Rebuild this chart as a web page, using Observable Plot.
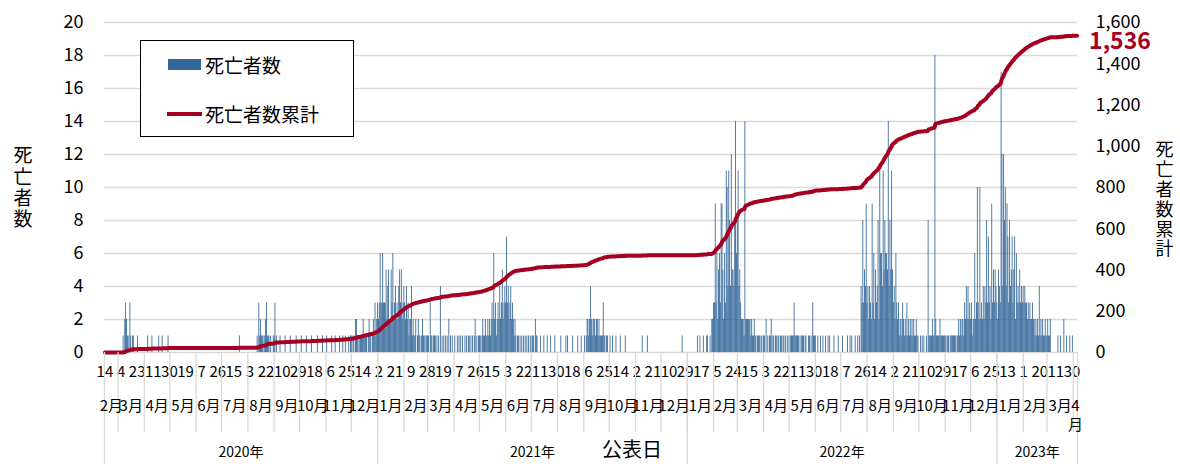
<!DOCTYPE html>
<html>
<head>
<meta charset="utf-8">
<script src="https://cdn.jsdelivr.net/npm/d3@7"></script>
<script src="https://cdn.jsdelivr.net/npm/@observablehq/plot@0.6"></script>
<style>
  body { margin: 0; background: #fff; font-family: "Noto Sans CJK JP", "Noto Sans", sans-serif; }
  #wrap { position: relative; width: 1180px; height: 464px; overflow: hidden; }
  #legend { position: absolute; left: 140px; top: 40px; width: 214px; height: 97px; box-sizing: border-box;
            border: 1px solid #000; background: #fff; }
  #legend .sw { position: absolute; }
  #legend .lb { position: absolute; font-size: 19px; line-height: 22px; color: #000; white-space: nowrap; }
</style>
</head>
<body>
<div id="wrap">
  <div id="chart"></div>
  <div id="legend"></div>
</div>
<script>
// ---------------- data ----------------
const startDate = "2020-02-14";
const endDate = "2023-04-05";
const seriesNames = ["死亡者数", "死亡者数累計"];
const leftTitle = "死亡者数";
const rightTitle = "死亡者数累計";
const xTitle = "公表日";
const yLeftTicks = [0, 2, 4, 6, 8, 10, 12, 14, 16, 18, 20];
const yRightTicks = [0, 200, 400, 600, 800, 1000, 1200, 1400, 1600];
const dayLabelStep = 19;
const colors = { bar: "#336699", line: "#A50021", grid: "#d9d9d9" };

// daily deaths: [month, first day, [values for consecutive days]]; unlisted days = 0
const deaths2020 = [
  [3, 7, [1,0,2,3,2,1,1,0,3,1,0,1,1]], [3, 24, [1]],
  [4, 5, [1]], [4, 10, [1]], [4, 18, [1]], [4, 22, [1]], [4, 29, [1]],
  [7, 22, [1]],
  [8, 12, [1,0,3,1,2,1,1,1,0,1,2,3,1,1,1,0,1,0,0,1]],
  [9, 1, [1,3,0,1]], [9, 8, [1]], [9, 14, [1]], [9, 20, [1]], [9, 27, [1]],
  [10, 3, [1]], [10, 9, [1]], [10, 15, [1]], [10, 22, [1]], [10, 28, [1]],
  [11, 2, [1]], [11, 8, [1]], [11, 12, [1]], [11, 17, [1]], [11, 21, [1]], [11, 24, [1]], [11, 28, [1]], [11, 30, [1]],
  [12, 1, [1,0,1,1,0,2,2,1,1,0,1,1,1,1,2,1,1,1,1,0,1,2,1,1,0,1,2,1,3,1,2]]
];
const deaths2021 = [
  [1, 1, [3,2,3,6,3,3,6,3,3,3,5,2,4,5,2,2,5,3,6,2,3,4,2,3,2,4,5,3,5,2,3]],
  [2, 1, [4,3,2,4,2,3,1,2,2,4,1,2,1,1,2,0,1,2,1,1,0,1,2,1,1,0,1,1]],
  [3, 1, [1,1,0,3,1,1,0,1,1,1,0,1,0,1,0,4,0,1,0,1,0,1,0,1,0,2,0,1,0,1,0]],
  [4, 2, [1]], [4, 5, [1]], [4, 7, [1]], [4, 9, [1]], [4, 11, [1]], [4, 14, [1]], [4, 16, [1]], [4, 18, [1,1]],
  [4, 21, [1]], [4, 23, [1]], [4, 25, [1,2]], [4, 28, [1]], [4, 30, [1]],
  [5, 1, [1,1,0,1,2,1,1,2,1,1,2,1,2,1,2,3,2,6,2,3,1,2,3,2,4,2,3,5,2,3,4]],
  [6, 1, [3,7,3,4,2,3,4,2,3,2,1,2,1,0,1,1,0,1,0,1,0,1,0,1,0,1,0,1,0,1]],
  [7, 2, [1,1,1,0,2,1,1]], [7, 12, [1]], [7, 16, [1]], [7, 20, [1]], [7, 24, [1]], [7, 29, [1]],
  [8, 5, [1]], [8, 11, [1]], [8, 13, [1]], [8, 19, [1]], [8, 25, [1]], [8, 29, [1]],
  [9, 2, [1,0,1,2,2,1,2,4,2,1,2,2,2,1,2,2,1,2,1,1,1,1,3,1,1,0,1,1,0]],
  [10, 2, [1]], [10, 5, [1]], [10, 9, [1]], [10, 14, [1]], [10, 20, [1]],
  [11, 9, [1]], [11, 15, [1]],
  [12, 26, [1]]
];
const deaths2022 = [
  [1, 13, [1]], [1, 16, [1]], [1, 20, [1]], [1, 24, [1,1]], [1, 28, [1,0,2,2]],
  [2, 1, [3,3,9,3,6,2,5,6,3,9,9,5,2,6,3,11,10,4,11,8,4,12,5,5,4,8,14,6]],
  [3, 1, [8,11,4,5,3,2,2,2,1,14,2,2,2,2,2,2,1,2,1,1,2,1,1,0,1,1,1,0,1,1,0]],
  [4, 1, [1,1,0,2,0,1,0,1,1,2,0,1,1,0,1,1,0,1,1,0,1,1,0,1,1,0,1,0,1,0]],
  [5, 1, [1,0,1,1,1,1,3,1,1,1,1,1,0,1,0,1,1,1,0,1,1,0,0,1,1,0,1,0,3,1,1]],
  [6, 1, [1]], [6, 4, [1]], [6, 7, [1]], [6, 10, [1]], [6, 13, [1]], [6, 16, [1]], [6, 18, [1]], [6, 23, [1]], [6, 28, [1]],
  [7, 3, [1]], [7, 9, [1]], [7, 12, [1]], [7, 14, [1]], [7, 18, [1]], [7, 21, [1]], [7, 23, [1]],
  [7, 25, [4,3,8,3,5,4,9]],
  [8, 1, [3,4,2,4,3,2,9,3,6,2,5,3,4,8,2,11,6,6,4,11,5,8,6,6,5,14,4,8,5,11,5]],
  [9, 1, [3,4,2,6,3,2,3,1,2,2,1,3,2,1,2,1,3,1,2,1,2,1,2,1,2,1,1,2,1,1]],
  [10, 3, [1]], [10, 5, [1]], [10, 7, [1]], [10, 10, [1]], [10, 12, [8,1,1,1,1,2,1,1,18,2,1,1,1,1,2,1,1,1,1,1]],
  [11, 1, [1,1,0,1,1,0,1,1,1,1,1,1,1,0,1,1,2,1,2,1,2,2,1,3,2,4,2,4,2,3]],
  [12, 1, [2,3,1,2,2,6,2,3,10,3,2,10,2,3,2,4,2,4,3,8,3,7,3,4,2,9,3,5,3,5,4]]
];
const deaths2023 = [
  [1, 1, [3,2,5,4,3,17,12,4,12,8,10,4,9,7,3,8,4,5,7,3,5,7,2,6,3,4,3,5,3,4,3]],
  [2, 1, [4,3,4,3,3,2,3,2,3,2,2,3,2,2,1,2,1,2,1,4,1,2,1,2,1,1,2,1]],
  [3, 1, [1,2,1,1,2]], [3, 14, [1]], [3, 17, [1]], [3, 21, [2]], [3, 24, [1]], [3, 28, [1]], [3, 31, [1]]
];

// ---------------- build series ----------------
const parse = d3.utcParse("%Y-%m-%d");
const t0 = parse(startDate);
const t1 = d3.utcDay.offset(parse(endDate), 1);
const byDay = new Map();
for (const [year, runs] of [[2020, deaths2020], [2021, deaths2021], [2022, deaths2022], [2023, deaths2023]]) {
  for (const [m, d, vals] of runs) vals.forEach((v, i) => byDay.set(Date.UTC(year, m - 1, d + i), v));
}
let running = 0;
const days = d3.utcDay.range(t0, t1).map(date => {
  const value = byDay.get(+date) ?? 0;
  running += value;
  return { date, end: d3.utcDay.offset(date, 1), mid: new Date(+date + 12 * 3600e3), value, cum: running };
});
const ratio = d3.max(yRightTicks) / d3.max(yLeftTicks);
const last = days[days.length - 1];

const monthStarts = d3.utcMonth.range(d3.utcMonth.ceil(t0), t1);
const yearStarts = d3.utcYear.range(d3.utcYear.ceil(t0), t1);
const spanMids = (edges) => d3.pairs(edges).map(([a, b]) => ({ a, b, mid: new Date((+a + +b) / 2) }));
const monthSpans = spanMids([t0, ...monthStarts, t1]);
const yearSpans = spanMids([t0, ...yearStarts, t1]);
const monthLabel = new Map(monthSpans.map(s => {
  const m = s.a.getUTCMonth() + 1;
  const short = (s.b - s.a) < 10 * 864e5;
  return [+s.mid, short ? `${m}\n月` : `${m}月`];
}));
const dayTicks = d3.range(0, days.length, dayLabelStep).map(i => days[i].mid);

const font = '"Noto Sans CJK JP", "Noto Sans", sans-serif';

const chart = Plot.plot({
  width: 1180,
  height: 464,
  marginTop: 22,
  marginBottom: 112,
  marginLeft: 104,
  marginRight: 103,
  x: { type: "utc", domain: [t0, t1] },
  y: { domain: [0, d3.max(yLeftTicks)] },
  style: { fontFamily: font, fontSize: "15px", color: "#000", background: "#fff", overflow: "visible" },
  marks: [
    Plot.gridY(yLeftTicks, { stroke: colors.grid, strokeOpacity: 1, strokeWidth: 1.3 }),
    Plot.rectY(days.filter(d => d.value > 0), { x1: "date", x2: "end", y: "value", fill: colors.bar }),
    Plot.lineY(days, { x: "mid", y: d => d.cum / ratio, stroke: colors.line, strokeWidth: 4, strokeLinejoin: "round" }),
    // left & right axes
    Plot.axisY(yLeftTicks, { anchor: "left", tickSize: 0, tickPadding: 21, fontSize: 18, label: null }),
    Plot.axisY(yRightTicks.map(v => v / ratio), { anchor: "right", tickSize: 0, tickPadding: 18, fontSize: 18, label: null,
      tickFormat: v => d3.format(",")(Math.round(v * ratio)) }),
    // x axis: day numbers, months, years
    Plot.axisX(dayTicks, { anchor: "bottom", tickSize: 0, tickPadding: 14, fontSize: 15, label: null,
      tickFormat: d => String(d.getUTCDate()) }),
    Plot.axisX(monthStarts, { anchor: "bottom", tickSize: 80, stroke: colors.grid, strokeWidth: 1.3, label: null, tickFormat: () => "" }),
    Plot.axisX([t0, ...yearStarts, t1], { anchor: "bottom", tickSize: 112, stroke: colors.grid, strokeWidth: 1.3, label: null, tickFormat: () => "" }),
    Plot.axisX(monthSpans.map(s => s.mid), { anchor: "bottom", tickSize: 0, tickPadding: 45, fontSize: 15, label: null, lineHeight: 1.25,
      tickFormat: d => monthLabel.get(+d) }),
    Plot.axisX(yearSpans.map(s => s.mid), { anchor: "bottom", tickSize: 0, tickPadding: 95, fontSize: 14, label: null,
      tickFormat: d => `${d.getUTCFullYear()}年` }),
    // final value label
    Plot.text([last], { x: "mid", y: d => d.cum / ratio, text: d => d3.format(",")(d.cum), textAnchor: "start",
      dx: 12, dy: 6, fill: colors.line, fontWeight: "bold", fontSize: 23 }),
    // axis titles
    Plot.text([leftTitle], { text: d => d.split("").join("\n"), frameAnchor: "left", dx: -91, dy: 0, fontSize: 19, lineHeight: 1.12 }),
    Plot.text([rightTitle], { text: d => d.split("").join("\n"), frameAnchor: "right", dx: 96, dy: 12, fontSize: 18, lineHeight: 1.1 }),
    Plot.text([xTitle], { frameAnchor: "bottom", dx: 41, dy: 104, fontSize: 20 })
  ]
});
document.getElementById("chart").appendChild(chart);

// legend
const legend = document.getElementById("legend");
legend.innerHTML = `
  <div class="sw" style="left:27px;top:18px;width:33px;height:11px;background:${colors.bar}"></div>
  <div class="lb" style="left:64px;top:13px">${seriesNames[0]}</div>
  <div class="sw" style="left:26px;top:71px;width:35px;height:4px;background:${colors.line}"></div>
  <div class="lb" style="left:64px;top:62px">${seriesNames[1]}</div>`;
</script>
</body>
</html>
